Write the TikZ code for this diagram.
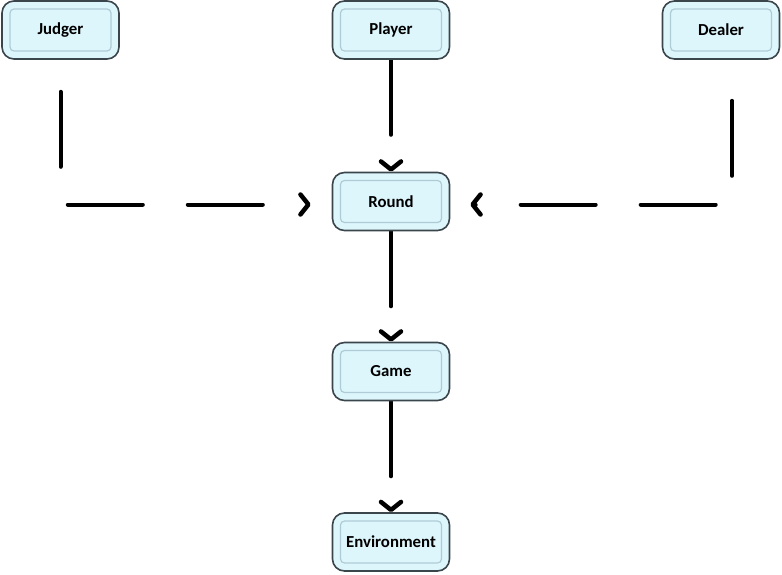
\documentclass[tikz,border=0pt]{standalone}
\usepackage{fontspec}
\setsansfont{Carlito}
\usetikzlibrary{arrows.meta,backgrounds}

\definecolor{boxfill}{HTML}{DDF6FC}
\definecolor{boxedge}{HTML}{3A464C}
\definecolor{boxinner}{HTML}{AFCBD5}

\tikzset{
	entity/.style={draw=boxedge, fill=boxfill, line width=1.6pt, rounded corners=12pt,
		minimum width=117pt, minimum height=58pt, font=\sffamily\bfseries\fontsize{16.8}{19}\selectfont,
		path picture={\draw[boxinner, line width=1.2pt, rounded corners=4pt]
			([xshift=8pt,yshift=-8pt]path picture bounding box.north west) rectangle
			([xshift=-8pt,yshift=8pt]path picture bounding box.south east);}},
	link/.style={line width=4pt, line cap=round, dash pattern=on 75pt off 45pt,
		-{Straight Barb[length=8pt,width=20pt,line width=4.5pt,round]}}
}

\begin{document}
\begin{tikzpicture}[x=1pt,y=-1pt]
	\useasboundingbox (0,0) rectangle (782,575);
	
	%ROLES
	\node[entity] (judger) at (60.5,30) {Judger};
	\node[entity] (player) at (391,30) {Player};
	\node[entity] (dealer) at (721,30) {Dealer};
	
	%CHAIN
	\node[entity] (round) at (391,201.5) {Round};
	\node[entity] (game) at (391,371.5) {Game};
	\node[entity] (env) at (391,542) {Environment};
	
	\coordinate (jin) at ([yshift=-3pt]round.west);
	\coordinate (dout) at ([xshift=11pt]dealer.south);
	\coordinate (din) at ([yshift=-3pt]round.east);
	
	%LINKS
	\begin{scope}[on background layer]
	\draw[link] (player) -- (round);
	\draw[link] (round) -- (game);
	\draw[link] (game) -- (env);
	\draw[link, dash phase=88pt, shorten >=21pt] (judger.south) |- (jin);
	\draw[link, dash phase=79pt, shorten >=20pt] (dout) |- (din);
	\end{scope}
\end{tikzpicture}
\end{document}
